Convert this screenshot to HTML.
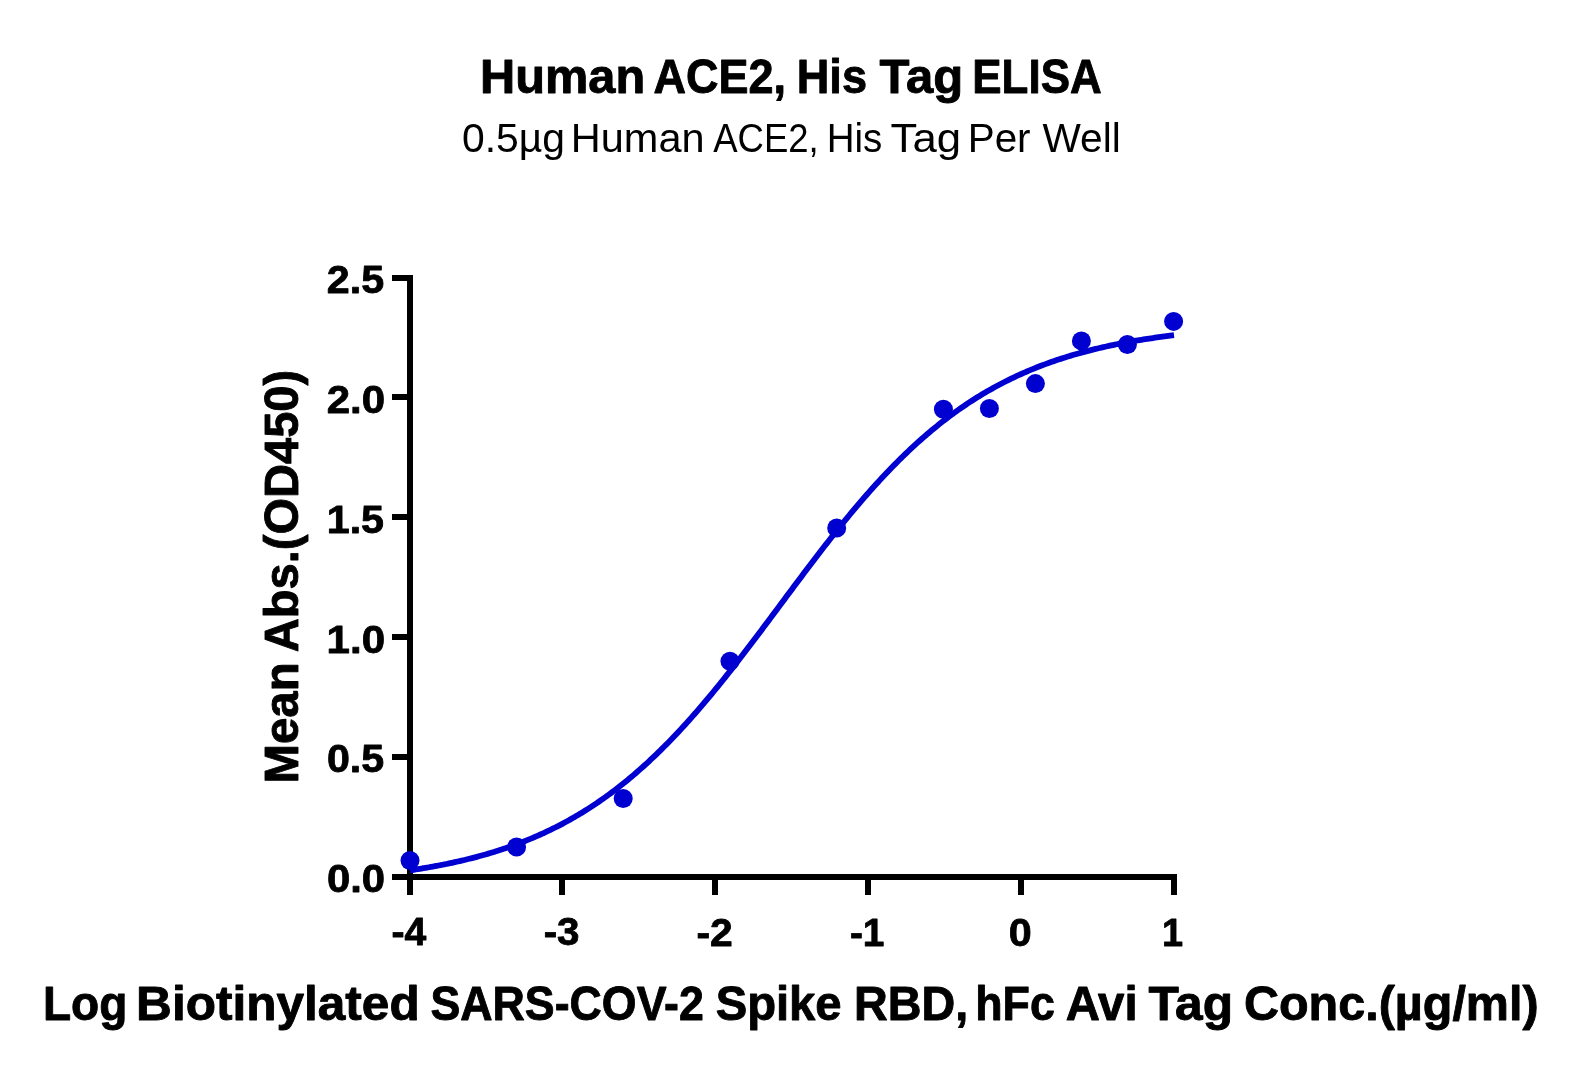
<!DOCTYPE html>
<html><head><meta charset="utf-8"><style>
html,body{margin:0;padding:0;background:#fff;overflow:hidden;}
svg{display:block;will-change:transform;}
text{font-family:"Liberation Sans",sans-serif;fill:#000;stroke:#000;stroke-linejoin:round;}
</style></head><body>
<svg width="1584" height="1076" viewBox="0 0 1584 1076">
<rect width="1584" height="1076" fill="#fff"/>
<text transform="translate(480.03,93.45) scale(1.0256,1)" font-size="47.53" font-weight="bold" stroke-width="0.9">Human</text><text transform="translate(653.62,93.45) scale(0.9469,1)" font-size="47.53" font-weight="bold" stroke-width="0.9">ACE2,</text><text transform="translate(796.75,93.45) scale(0.9497,1)" font-size="47.53" font-weight="bold" stroke-width="0.9">His</text><text transform="translate(879.61,93.45) scale(1.0325,1)" font-size="47.53" font-weight="bold" stroke-width="0.9">Tag</text><text transform="translate(972.29,93.45) scale(0.9248,1)" font-size="47.53" font-weight="bold" stroke-width="0.9">ELISA</text><text transform="translate(462.04,151.80) scale(1.0134,1)" font-size="40.30" font-weight="normal" stroke-width="0">0.5µg</text><text transform="translate(570.79,151.80) scale(1.0305,1)" font-size="40.30" font-weight="normal" stroke-width="0">Human</text><text transform="translate(713.25,151.80) scale(0.9063,1)" font-size="40.30" font-weight="normal" stroke-width="0">ACE2,</text><text transform="translate(826.63,151.80) scale(0.9559,1)" font-size="40.30" font-weight="normal" stroke-width="0">His</text><text transform="translate(890.56,151.80) scale(1.0847,1)" font-size="40.30" font-weight="normal" stroke-width="0">Tag</text><text transform="translate(967.73,151.80) scale(1.0023,1)" font-size="40.30" font-weight="normal" stroke-width="0">Per</text><text transform="translate(1042.50,151.80) scale(1.0084,1)" font-size="40.30" font-weight="normal" stroke-width="0">Well</text><text transform="translate(42.92,1020.15) scale(0.9553,1)" font-size="48.26" font-weight="bold" stroke-width="0.9">Log</text><text transform="translate(136.12,1020.15) scale(1.0268,1)" font-size="48.26" font-weight="bold" stroke-width="0.9">Biotinylated</text><text transform="translate(430.48,1020.15) scale(0.9265,1)" font-size="48.26" font-weight="bold" stroke-width="0.9">SARS-COV-2</text><text transform="translate(715.66,1020.15) scale(0.9784,1)" font-size="48.26" font-weight="bold" stroke-width="0.9">Spike</text><text transform="translate(854.03,1020.15) scale(0.9682,1)" font-size="48.26" font-weight="bold" stroke-width="0.9">RBD,</text><text transform="translate(975.28,1020.15) scale(0.9275,1)" font-size="48.26" font-weight="bold" stroke-width="0.9">hFc</text><text transform="translate(1065.67,1020.15) scale(0.9814,1)" font-size="48.26" font-weight="bold" stroke-width="0.9">Avi</text><text transform="translate(1148.42,1020.15) scale(1.0299,1)" font-size="48.26" font-weight="bold" stroke-width="0.9">Tag</text><text transform="translate(1243.89,1020.15) scale(1.0057,1)" font-size="48.26" font-weight="bold" stroke-width="0.9">Conc.(µg/ml)</text><text transform="translate(297.54,783.49) rotate(-90) scale(0.9848,1)" font-size="48.11" font-weight="bold" stroke-width="0.9">Mean</text><text transform="translate(297.54,652.24) rotate(-90) scale(0.9782,1)" font-size="48.11" font-weight="bold" stroke-width="0.9">Abs.(OD450)</text><text transform="translate(326.96,891.64) scale(1.0813,1)" font-size="38.70" font-weight="bold" text-anchor="start" stroke-width="0.8">0.0</text><text transform="translate(326.92,772.44) scale(1.0643,1)" font-size="38.70" font-weight="bold" text-anchor="start" stroke-width="0.8">0.5</text><text transform="translate(326.58,652.64) scale(1.0869,1)" font-size="38.70" font-weight="bold" text-anchor="start" stroke-width="0.8">1.0</text><text transform="translate(326.74,532.64) scale(1.0652,1)" font-size="38.70" font-weight="bold" text-anchor="start" stroke-width="0.8">1.5</text><text transform="translate(326.76,412.64) scale(1.0853,1)" font-size="38.70" font-weight="bold" text-anchor="start" stroke-width="0.8">2.0</text><text transform="translate(326.73,292.84) scale(1.0662,1)" font-size="38.70" font-weight="bold" text-anchor="start" stroke-width="0.8">2.5</text><text transform="translate(391.41,945.14) scale(1.0126,1)" font-size="38.70" font-weight="bold" text-anchor="start" stroke-width="0.8">-4</text><text transform="translate(543.68,945.06) scale(1.0418,1)" font-size="38.70" font-weight="bold" text-anchor="start" stroke-width="0.8">-3</text><text transform="translate(696.45,945.74) scale(1.0564,1)" font-size="38.70" font-weight="bold" text-anchor="start" stroke-width="0.8">-2</text><text transform="translate(849.93,945.74) scale(1.0035,1)" font-size="38.70" font-weight="bold" text-anchor="start" stroke-width="0.8">-1</text><text transform="translate(1008.78,945.85) scale(1.0679,1)" font-size="38.70" font-weight="bold" text-anchor="start" stroke-width="0.8">0</text><text transform="translate(1161.98,945.54) scale(0.9797,1)" font-size="38.70" font-weight="bold" text-anchor="start" stroke-width="0.8">1</text>
<g fill="#000"><rect x="407" y="275" width="6" height="605"/><rect x="407" y="874" width="770" height="6"/><rect x="392" y="874" width="15" height="6"/><rect x="392" y="754" width="15" height="6"/><rect x="392" y="634" width="15" height="6"/><rect x="392" y="514" width="15" height="6"/><rect x="392" y="394" width="15" height="6"/><rect x="392" y="275" width="15" height="6"/><rect x="407" y="880" width="6" height="15"/><rect x="559" y="880" width="6" height="15"/><rect x="712" y="880" width="6" height="15"/><rect x="865" y="880" width="6" height="15"/><rect x="1018" y="880" width="6" height="15"/><rect x="1171" y="880" width="6" height="15"/></g>
<path d="M410.00,870.34 L411.91,870.05 L413.82,869.76 L415.73,869.47 L417.64,869.17 L419.55,868.86 L421.46,868.55 L423.37,868.23 L425.28,867.91 L427.19,867.58 L429.10,867.25 L431.01,866.91 L432.92,866.57 L434.83,866.22 L436.74,865.86 L438.65,865.50 L440.56,865.13 L442.47,864.76 L444.38,864.38 L446.29,863.99 L448.20,863.60 L450.11,863.20 L452.02,862.79 L453.93,862.37 L455.84,861.95 L457.75,861.52 L459.66,861.09 L461.57,860.65 L463.48,860.20 L465.39,859.74 L467.30,859.27 L469.21,858.80 L471.12,858.32 L473.03,857.83 L474.94,857.33 L476.85,856.83 L478.76,856.32 L480.67,855.79 L482.58,855.26 L484.49,854.73 L486.40,854.18 L488.31,853.62 L490.22,853.06 L492.13,852.48 L494.04,851.90 L495.95,851.30 L497.86,850.70 L499.77,850.09 L501.68,849.47 L503.59,848.83 L505.50,848.19 L507.41,847.54 L509.32,846.88 L511.23,846.20 L513.14,845.52 L515.05,844.82 L516.96,844.12 L518.87,843.40 L520.78,842.67 L522.69,841.93 L524.60,841.18 L526.51,840.42 L528.42,839.65 L530.33,838.86 L532.24,838.06 L534.15,837.25 L536.06,836.43 L537.97,835.60 L539.88,834.75 L541.79,833.89 L543.70,833.02 L545.61,832.13 L547.52,831.23 L549.43,830.32 L551.34,829.40 L553.25,828.46 L555.16,827.51 L557.07,826.54 L558.98,825.56 L560.89,824.56 L562.80,823.56 L564.71,822.53 L566.62,821.50 L568.53,820.44 L570.44,819.38 L572.35,818.29 L574.26,817.20 L576.17,816.09 L578.08,814.96 L579.99,813.82 L581.90,812.66 L583.81,811.48 L585.72,810.29 L587.63,809.09 L589.54,807.86 L591.45,806.63 L593.36,805.37 L595.27,804.10 L597.18,802.81 L599.09,801.51 L601.00,800.19 L602.91,798.85 L604.82,797.50 L606.73,796.13 L608.64,794.74 L610.55,793.33 L612.46,791.91 L614.37,790.47 L616.28,789.01 L618.19,787.54 L620.10,786.04 L622.01,784.53 L623.92,783.01 L625.83,781.46 L627.74,779.90 L629.65,778.32 L631.56,776.72 L633.47,775.10 L635.38,773.46 L637.29,771.81 L639.20,770.14 L641.11,768.45 L643.02,766.74 L644.93,765.02 L646.84,763.28 L648.75,761.52 L650.66,759.74 L652.57,757.94 L654.48,756.12 L656.39,754.29 L658.30,752.44 L660.21,750.57 L662.12,748.69 L664.03,746.78 L665.94,744.86 L667.85,742.92 L669.76,740.97 L671.67,738.99 L673.58,737.00 L675.49,735.00 L677.40,732.97 L679.31,730.93 L681.22,728.87 L683.13,726.80 L685.04,724.70 L686.95,722.60 L688.86,720.47 L690.77,718.33 L692.68,716.18 L694.59,714.00 L696.50,711.82 L698.41,709.62 L700.32,707.40 L702.23,705.17 L704.14,702.92 L706.05,700.66 L707.96,698.38 L709.87,696.09 L711.78,693.79 L713.69,691.48 L715.60,689.15 L717.51,686.81 L719.42,684.45 L721.33,682.08 L723.24,679.71 L725.15,677.32 L727.06,674.91 L728.97,672.50 L730.88,670.08 L732.79,667.65 L734.70,665.20 L736.61,662.75 L738.52,660.29 L740.43,657.82 L742.34,655.34 L744.25,652.85 L746.16,650.35 L748.07,647.85 L749.98,645.34 L751.89,642.82 L753.80,640.30 L755.71,637.77 L757.62,635.24 L759.53,632.70 L761.44,630.15 L763.35,627.61 L765.26,625.05 L767.17,622.50 L769.08,619.94 L770.99,617.38 L772.90,614.82 L774.81,612.25 L776.72,609.68 L778.63,607.12 L780.54,604.55 L782.45,601.98 L784.36,599.41 L786.27,596.85 L788.18,594.28 L790.09,591.72 L792.00,589.16 L793.91,586.60 L795.82,584.04 L797.73,581.49 L799.64,578.94 L801.55,576.39 L803.46,573.85 L805.37,571.32 L807.28,568.79 L809.19,566.26 L811.10,563.75 L813.01,561.23 L814.92,558.73 L816.83,556.23 L818.74,553.74 L820.65,551.26 L822.56,548.79 L824.47,546.32 L826.38,543.87 L828.29,541.42 L830.20,538.99 L832.11,536.56 L834.02,534.15 L835.93,531.75 L837.84,529.35 L839.75,526.97 L841.66,524.60 L843.57,522.25 L845.48,519.90 L847.39,517.57 L849.30,515.25 L851.21,512.95 L853.12,510.66 L855.03,508.38 L856.94,506.11 L858.85,503.86 L860.76,501.63 L862.67,499.41 L864.58,497.20 L866.49,495.01 L868.40,492.84 L870.31,490.68 L872.22,488.54 L874.13,486.41 L876.04,484.30 L877.95,482.20 L879.86,480.12 L881.77,478.06 L883.68,476.02 L885.59,473.99 L887.50,471.98 L889.41,469.98 L891.32,468.01 L893.23,466.05 L895.14,464.11 L897.05,462.18 L898.96,460.27 L900.87,458.38 L902.78,456.51 L904.69,454.66 L906.60,452.82 L908.51,451.00 L910.42,449.20 L912.33,447.42 L914.24,445.66 L916.15,443.91 L918.06,442.18 L919.97,440.47 L921.88,438.78 L923.79,437.10 L925.70,435.45 L927.61,433.81 L929.52,432.19 L931.43,430.58 L933.34,429.00 L935.25,427.43 L937.16,425.88 L939.07,424.35 L940.98,422.84 L942.89,421.34 L944.80,419.86 L946.71,418.40 L948.62,416.96 L950.53,415.53 L952.44,414.12 L954.35,412.73 L956.26,411.36 L958.17,410.00 L960.08,408.66 L961.99,407.33 L963.90,406.03 L965.81,404.74 L967.72,403.46 L969.63,402.20 L971.54,400.96 L973.45,399.74 L975.36,398.53 L977.27,397.33 L979.18,396.16 L981.09,395.00 L983.00,393.85 L984.91,392.72 L986.82,391.60 L988.73,390.50 L990.64,389.42 L992.55,388.35 L994.46,387.29 L996.37,386.25 L998.28,385.23 L1000.19,384.22 L1002.10,383.22 L1004.01,382.24 L1005.92,381.27 L1007.83,380.31 L1009.74,379.37 L1011.65,378.44 L1013.56,377.53 L1015.47,376.63 L1017.38,375.74 L1019.29,374.86 L1021.20,374.00 L1023.11,373.15 L1025.02,372.31 L1026.93,371.49 L1028.84,370.68 L1030.75,369.88 L1032.66,369.09 L1034.57,368.31 L1036.48,367.55 L1038.39,366.80 L1040.30,366.05 L1042.21,365.32 L1044.12,364.60 L1046.03,363.90 L1047.94,363.20 L1049.85,362.51 L1051.76,361.84 L1053.67,361.17 L1055.58,360.52 L1057.49,359.87 L1059.40,359.24 L1061.31,358.62 L1063.22,358.00 L1065.13,357.40 L1067.04,356.80 L1068.95,356.21 L1070.86,355.64 L1072.77,355.07 L1074.68,354.51 L1076.59,353.96 L1078.50,353.42 L1080.41,352.89 L1082.32,352.37 L1084.23,351.85 L1086.14,351.35 L1088.05,350.85 L1089.96,350.36 L1091.87,349.87 L1093.78,349.40 L1095.69,348.93 L1097.60,348.47 L1099.51,348.02 L1101.42,347.58 L1103.33,347.14 L1105.24,346.71 L1107.15,346.29 L1109.06,345.87 L1110.97,345.46 L1112.88,345.06 L1114.79,344.67 L1116.70,344.28 L1118.61,343.90 L1120.52,343.52 L1122.43,343.15 L1124.34,342.79 L1126.25,342.43 L1128.16,342.08 L1130.07,341.73 L1131.98,341.39 L1133.89,341.06 L1135.80,340.73 L1137.71,340.41 L1139.62,340.09 L1141.53,339.78 L1143.44,339.47 L1145.35,339.17 L1147.26,338.88 L1149.17,338.58 L1151.08,338.30 L1152.99,338.02 L1154.90,337.74 L1156.81,337.47 L1158.72,337.20 L1160.63,336.94 L1162.54,336.68 L1164.45,336.43 L1166.36,336.18 L1168.27,335.93 L1170.18,335.69 L1172.09,335.45 L1174.00,335.22" fill="none" stroke="#0000D0" stroke-width="5.8"/>
<g fill="#0000D0"><circle cx="410.00" cy="860.50" r="9.5"/><circle cx="516.60" cy="847.00" r="9.5"/><circle cx="623.20" cy="798.50" r="9.5"/><circle cx="730.00" cy="661.20" r="9.5"/><circle cx="836.70" cy="528.00" r="9.5"/><circle cx="943.40" cy="409.20" r="9.5"/><circle cx="989.40" cy="408.50" r="9.5"/><circle cx="1035.40" cy="383.60" r="9.5"/><circle cx="1081.40" cy="340.90" r="9.5"/><circle cx="1127.40" cy="344.50" r="9.5"/><circle cx="1173.60" cy="321.40" r="9.5"/></g>
</svg>
</body></html>
